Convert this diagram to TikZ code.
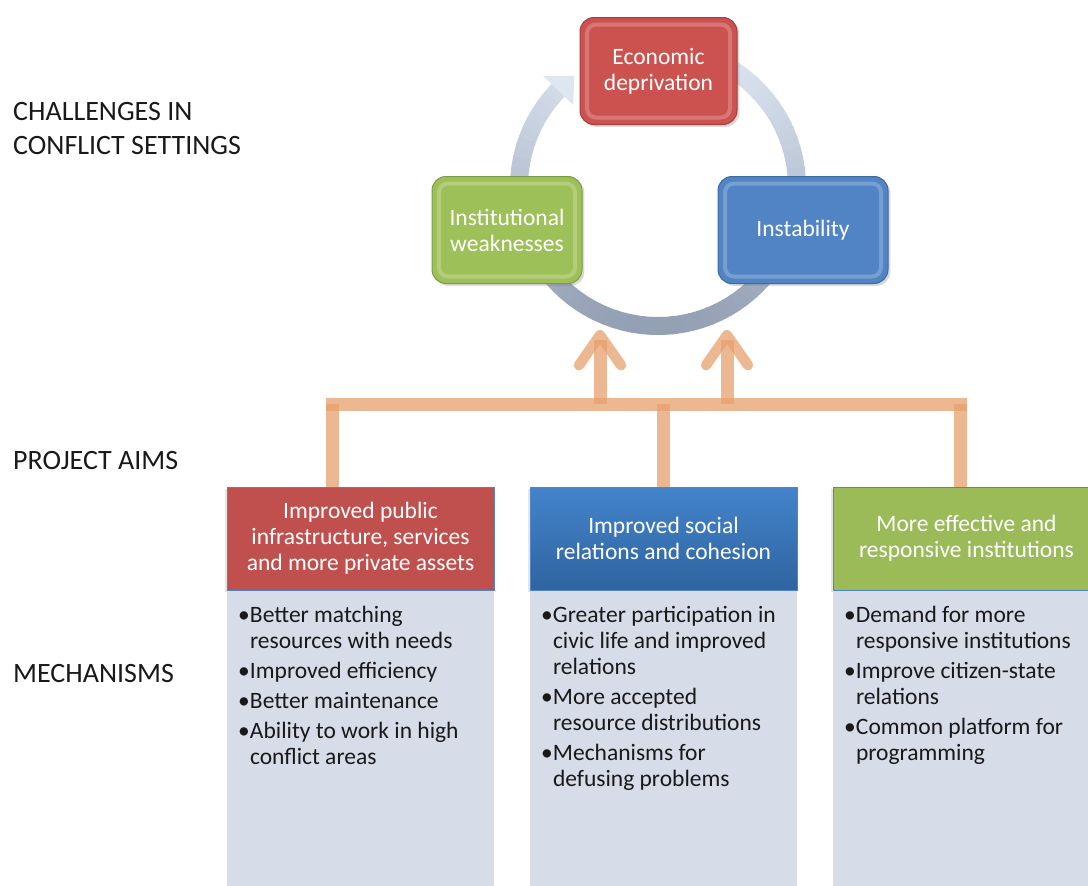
\documentclass[tikz,border=0pt]{standalone}
\usepackage{fontspec}
\setmainfont{Carlito}
\usetikzlibrary{arrows.meta,shadows,positioning}

\definecolor{econred}{RGB}{203,82,79}
\definecolor{instgreen}{RGB}{158,192,88}
\definecolor{stabblue}{RGB}{80,132,196}
\definecolor{aimred}{RGB}{192,80,77}
\definecolor{aimblue}{RGB}{58,125,200}
\definecolor{aimgreen}{RGB}{155,187,89}
\definecolor{mechgrey}{RGB}{214,220,232}
\definecolor{ringtop}{RGB}{222,230,242}
\definecolor{ringbot}{RGB}{148,160,180}
\definecolor{linkorange}{RGB}{230,160,110}

\newcommand{\bul}{\makebox[12pt][l]{\textbullet}}
\newcommand{\ind}{\hspace*{12pt}}

\begin{document}
\begin{tikzpicture}[x=1pt,y=1pt]
\tikzstyle{bevel}=[path picture={\draw[white,opacity=0.22,line width=4pt,rounded corners=9pt] ([shift={(7pt,-7pt)}]path picture bounding box.north west) rectangle ([shift={(-7pt,7pt)}]path picture bounding box.south east);}]
\tikzstyle{challenge}=[rounded corners=14pt, minimum height=107pt, align=center, text=white, font=\fontsize{23.5}{26}\selectfont, line width=1pt, drop shadow={opacity=0.3}, bevel]
\tikzstyle{aim}=[minimum width=267pt, minimum height=103pt, align=center, text=white, font=\fontsize{23.5}{26}\selectfont, draw=stabblue, line width=0.8pt, drop shadow={opacity=0.2,shadow xshift=-2pt,shadow yshift=-2pt}]
\tikzstyle{mech}=[minimum width=267pt, minimum height=310pt, fill=mechgrey, inner sep=0pt]
\tikzstyle{items}=[anchor=north west, align=left, inner sep=0pt, text=black!90, font=\fontsize{23.5}{26}\selectfont]
\tikzstyle{side}=[anchor=west, align=left, inner sep=0pt, text=black!90, font=\fontsize{28}{34}\selectfont]
\tikzstyle{link}=[linkorange, opacity=0.75, line width=13pt]

\useasboundingbox (0,0) rectangle (1088,-886);

% side labels
\node (lblchal) [side] at (13,-129) {CHALLENGES IN\\CONFLICT SETTINGS};
\node (lblaims) [side] at (13,-461) {PROJECT AIMS};
\node (lblmech) [side] at (13,-674) {MECHANISMS};

% cycle ring
\coordinate (ring) at (658,-187);
\foreach \a [evaluate=\a as \p using {int(50+50*sin(\a))}] in {64,60,...,-220}
  \draw[line width=18pt, ringtop!\p!ringbot] ([shift={(\a:139)}]ring) arc (\a:\a-4.6:139);
\fill[ringtop] ([shift={(-224:118)}]ring) -- ([shift={(-233:139)}]ring) -- ([shift={(-224:160)}]ring) -- cycle;

% challenges
\node (econ) at (658.5,-71) [challenge, minimum width=157pt, fill=econred, draw=econred!80!black] {Economic\\deprivation};
\node (inst) at (507,-230) [challenge, minimum width=150pt, inner sep=2pt, fill=instgreen, draw=instgreen!80!black] {Institutional\\weaknesses};
\node (instab) at (803,-230) [challenge, minimum width=170pt, fill=stabblue, draw=stabblue!80!black] {Instability};

% orange connectors
\coordinate (barL) at (332,-404);
\coordinate (barM) at (663,-404);
\coordinate (barR) at (960,-404);
\coordinate (barA) at (600,-404);
\coordinate (barB) at (727,-404);
\coordinate (tipA) at (600,-330);
\coordinate (tipB) at (727,-330);

\draw[link, line cap=rect] (barL) -- (barR);
\draw[link, -{Straight Barb[length=30pt,width=42pt,line width=0pt 0.8,round]}] (barA) -- (tipA);
\draw[link, -{Straight Barb[length=30pt,width=42pt,line width=0pt 0.8,round]}] (barB) -- (tipB);

% project aims
\node (aim1) [aim, fill=aimred] at (360.5,-538.5) {Improved public\\infrastructure, services\\and more private assets};
\node (aim2) [aim, top color=aimblue!95!white, bottom color=aimblue!80!black] at (663.5,-538.5) {Improved social\\relations and cohesion};
\node (aim3) [aim, fill=aimgreen] at (966.5,-538.5) {More effective and\\responsive institutions};

\draw[link] (barL) -- (barL |- aim1.north);
\draw[link] (barM) -- (barM |- aim2.north);
\draw[link] (barR) -- (barR |- aim3.north);

% mechanisms
\node (mech1) [mech, below=0pt of aim1] {};
\node (mech2) [mech, below=0pt of aim2] {};
\node (mech3) [mech, below=0pt of aim3] {};

\node (list1) [items] at ([shift={(11pt,-16pt)}]mech1.north west) {\bul Better matching\\ \ind resources with needs\\[4pt]\bul Improved efficiency\\[4pt]\bul Better maintenance\\[4pt]\bul Ability to work in high\\ \ind conflict areas};
\node (list2) [items] at ([shift={(11pt,-16pt)}]mech2.north west) {\bul Greater participation in\\ \ind civic life and improved\\ \ind relations\\[4pt]\bul More accepted\\ \ind resource distributions\\[4pt]\bul Mechanisms for\\ \ind defusing problems};
\node (list3) [items] at ([shift={(11pt,-16pt)}]mech3.north west) {\bul Demand for more\\ \ind responsive institutions\\[4pt]\bul Improve citizen-state\\ \ind relations\\[4pt]\bul Common platform for\\ \ind programming};
\end{tikzpicture}
\end{document}
